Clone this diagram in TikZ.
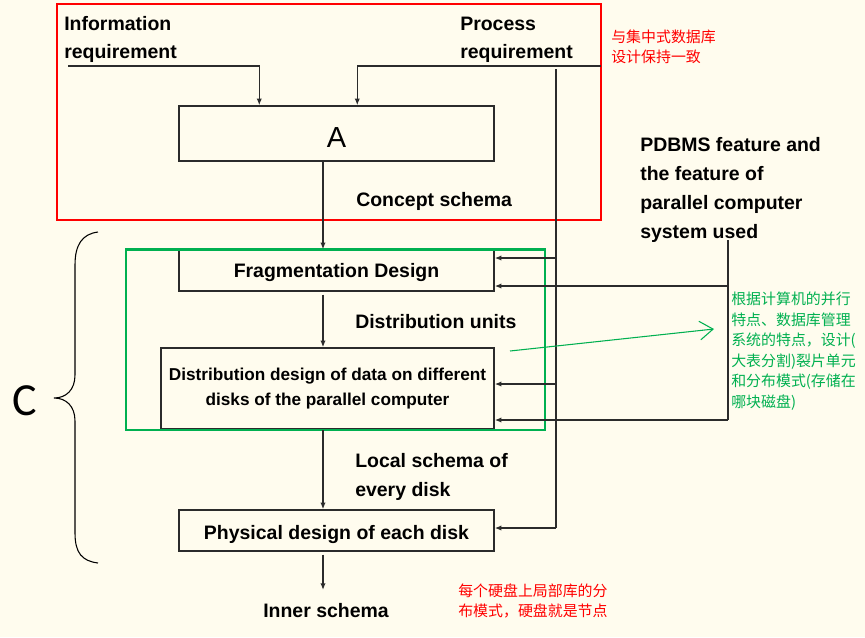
\documentclass[tikz,border=0pt]{standalone}
\usepackage{fontspec}
\setmainfont{Liberation Sans}
\newfontfamily\cjk{Noto Sans CJK SC}
\newfontfamily\calib{Carlito}
\usetikzlibrary{arrows.meta,calc}
\definecolor{bg}{HTML}{FFFCEE}
\definecolor{gr}{HTML}{00B050}
\definecolor{ln}{HTML}{2B2B2B}
\begin{document}
\begin{tikzpicture}[x=0.75pt,y=-0.75pt,
 lbl/.style={font=\bfseries\fontsize{14.6}{21}\selectfont, inner sep=0pt, align=left, anchor=base west},
 box/.style={draw=ln, line width=1.1pt, inner sep=0pt, align=center},
 arr/.style={draw=ln, line width=1.1pt, -{Latex[length=5pt,width=4pt]}},
 plain/.style={draw=ln, line width=1.1pt},
 cn/.style={font=\cjk\fontsize{11.2}{15.4}\selectfont, inner sep=0pt, align=left, anchor=base west}
]
\fill[bg] (0,0) rectangle (865,637);
\useasboundingbox (0,0) rectangle (865,637);

% frames
\draw[red, line width=2.2pt] (57,4) rectangle (601,220);

% boxes
\node[box, minimum width=236.25pt, minimum height=41.25pt, font=\fontsize{21.75}{26}\selectfont] (A) at (336.5,133.5) {\raisebox{-10.5pt}[0pt][0pt]{A}};
\node[box, minimum width=236.25pt, minimum height=30.75pt, font=\bfseries\fontsize{14.6}{18}\selectfont] (frag) at (336.5,270.5) {\raisebox{-5.3pt}[0pt][0pt]{Fragmentation Design}};
\node[box, minimum width=249.75pt, minimum height=60.75pt, font=\bfseries\fontsize{12.9}{18.75}\selectfont] (dist) at (327.5,388.5) {Distribution design of data on different\\disks of the parallel computer};
\node[box, minimum width=236.25pt, minimum height=30.75pt, font=\bfseries\fontsize{14.6}{18}\selectfont] (phys) at (336.5,530.5) {\raisebox{-6.8pt}[0pt][0pt]{Physical design of each disk}};

\draw[gr, line width=2.2pt] (126,249.5) rectangle (545,430);

% labels (anchor = baseline of last line)
\node[lbl] (info) at (64,58) {Information\\requirement};
\node[lbl] (proc) at (460,58) {Process\\requirement};
\node[lbl] (concept) at (356,206) {Concept schema};
\node[lbl] (units) at (355,328) {Distribution units};
\node[lbl, font=\bfseries\fontsize{14.6}{21.75}\selectfont] (local) at (355,496) {Local schema of\\every disk};
\node[lbl] (inner) at (263,617) {Inner schema};
\node[lbl, font=\bfseries\fontsize{14.6}{21.6}\selectfont] (pdbms) at (640,238) {PDBMS feature and\\the feature of\\parallel computer\\system used};
\node[font=\calib\fontsize{34.5}{40}\selectfont, anchor=base west, inner sep=0pt] (C) at (12,415) {C};

\node[cn, red, font=\cjk\fontsize{11.2}{14.6}\selectfont] (note1) at (611,62) {与集中式数据库\\设计保持一致};
\node[cn, gr] (note2) at (731,407.5) {根据计算机的并行\\特点、数据库管理\\系统的特点，设计(\\大表分割)裂片单元\\和分布模式(存储在\\哪块磁盘)};
\node[cn, red, font=\cjk\fontsize{11.2}{14.6}\selectfont] (note3) at (458,616) {每个硬盘上局部库的分\\布模式，硬盘就是节点};

% coordinates
\coordinate (infostart) at (68,66);
\coordinate (procstart) at (601,66);
\coordinate (mainx) at (323,0);
\coordinate (busTop) at (556,69);
\coordinate (busBot) at (556,528);
\coordinate (busF) at (556,258);
\coordinate (busD) at (556,384);
\coordinate (pdTop) at (728,240);
\coordinate (pdBot) at (728,420);
\coordinate (pdF) at (728,286);
\coordinate (gstart) at (510,351);
\coordinate (gend) at (714,329);
\coordinate (distbot) at (323,430);
\coordinate (innertop) at (323,590);

% connectors
\draw[arr] (infostart) -| ($(A.north west)+(81,0)$);
\draw[arr] (procstart) -| ($(A.north west)+(179,0)$);
\draw[arr] (A.south -| mainx) -- (frag.north -| mainx);
\draw[arr] ($(frag.south -| mainx)+(0,3)$) -- (dist.north -| mainx);
\draw[arr] (distbot) -- (phys.north -| mainx);
\draw[arr] ($(phys.south -| mainx)+(0,3)$) -- (innertop);

\draw[plain] (busTop) -- (busBot);
\draw[arr] (busBot) -- (phys.east |- busBot);
\draw[arr] (busF) -- (frag.east |- busF);
\draw[arr] (busD) -- (dist.east |- busD);
\draw[plain] (pdTop) -- (pdBot);
\draw[arr] (pdF) -- (frag.east |- pdF);
\draw[arr] (pdBot) -- (dist.east |- pdBot);

\draw[gr, line width=0.8pt, -{Straight Barb[length=10pt,width=14pt]}] (gstart) -- (gend);

% brace
\draw[black, line width=0.8pt] (98,232) .. controls (82,234) and (75,245) .. (75,265) -- (75,375) .. controls (75,390) and (66,398) .. (54,398) .. controls (66,398) and (75,406) .. (75,421) -- (75,533) .. controls (75,553) and (82,561) .. (98,563);
\end{tikzpicture}
\end{document}
